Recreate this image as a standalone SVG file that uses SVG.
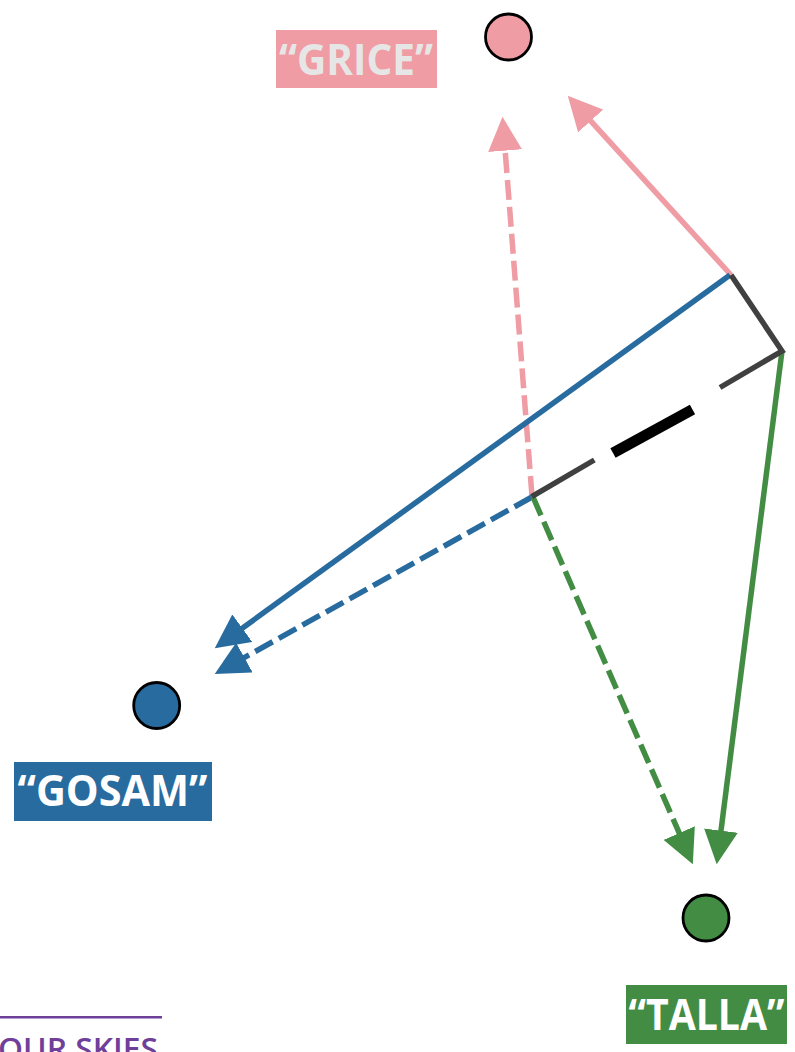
<svg xmlns="http://www.w3.org/2000/svg" width="795" height="1052" viewBox="0 0 795 1052">
  <defs>
    <style>
      .lbl { font-family: "Open Sans", "Liberation Sans", sans-serif; font-weight: 700; font-size: 43px; text-anchor: middle; }
      .node { stroke: #000; stroke-width: 2.8; }
      .ln { fill: none; stroke-width: 5.5; stroke-linecap: butt; }
      .thick { stroke-width: 11; }
      .dash { stroke-dasharray: 20 7; }
      .pink { stroke: #ef9ca4; }
      .blue { stroke: #286b9f; }
      .green { stroke: #428d43; }
      .grey { stroke: #404040; }
      .black { stroke: #000000; }
    </style>
    <marker id="ahPink" markerUnits="userSpaceOnUse" markerWidth="34" markerHeight="34" refX="23" refY="16.5" orient="auto" viewBox="0 0 33 33">
      <path d="M0,0 L33,16.5 L0,33 Z" fill="#ef9ca4"/>
    </marker>
    <marker id="ahBlue" markerUnits="userSpaceOnUse" markerWidth="34" markerHeight="34" refX="23" refY="16.5" orient="auto" viewBox="0 0 33 33">
      <path d="M0,0 L33,16.5 L0,33 Z" fill="#286b9f"/>
    </marker>
    <marker id="ahGreen" markerUnits="userSpaceOnUse" markerWidth="34" markerHeight="34" refX="23" refY="16.5" orient="auto" viewBox="0 0 33 33">
      <path d="M0,0 L33,16.5 L0,33 Z" fill="#428d43"/>
    </marker>
  </defs>
  <rect width="795" height="1052" fill="#ffffff"/>

  <g id="connectors">
    <line class="ln pink" x1="731" y1="275" x2="574.7" y2="103.4" marker-end="url(#ahPink)"/>
    <line class="ln pink dash" x1="532" y1="496" x2="503.3" y2="127" marker-end="url(#ahPink)"/>
    <line class="ln blue" x1="730" y1="275" x2="223.1" y2="642.1" marker-end="url(#ahBlue)"/>
    <line class="ln blue dash" x1="532" y1="497" x2="223.7" y2="669.1" marker-end="url(#ahBlue)"/>
    <line class="ln green" x1="782" y1="351" x2="718" y2="854.1" marker-end="url(#ahGreen)"/>
    <line class="ln green dash" x1="533" y1="497" x2="688.7" y2="854.8" marker-end="url(#ahGreen)"/>
    <polyline class="ln grey" stroke-linejoin="miter" points="731,275 782,351 720,387.5"/>
    <line class="ln black thick" x1="692.5" y1="409.5" x2="613" y2="453"/>
    <line class="ln grey" x1="594.3" y1="460" x2="531.7" y2="496.7"/>
  </g>

  <g id="grice">
    <circle class="node" cx="508.5" cy="37" r="23" fill="#ef9ca4"/>
    <rect x="276" y="30" width="161" height="58" fill="#ef9ca4"/>
    <text class="lbl" x="356" y="75" fill="#e7e6e6" textLength="154" lengthAdjust="spacingAndGlyphs">“GRICE”</text>
  </g>

  <g id="gosam">
    <circle class="node" cx="156.7" cy="705.5" r="23" fill="#286b9f"/>
    <rect x="14" y="762" width="198" height="59" fill="#286b9f"/>
    <text class="lbl" x="112.5" y="806" fill="#ffffff" textLength="190" lengthAdjust="spacingAndGlyphs">“GOSAM”</text>
  </g>

  <g id="talla">
    <circle class="node" cx="706" cy="918" r="23" fill="#428d43"/>
    <rect x="626" y="985" width="161" height="59" fill="#428d43"/>
    <text class="lbl" x="706.5" y="1030" fill="#ffffff" textLength="156" lengthAdjust="spacingAndGlyphs">“TALLA”</text>
  </g>

  <g id="logo">
    <line x1="0" y1="1017.3" x2="162" y2="1017.3" stroke="#6f3f9a" stroke-width="2.5"/>
    <text x="-2" y="1060" fill="#6f3f9a" font-family="'Open Sans', 'Liberation Sans', sans-serif" font-weight="600" font-size="31" textLength="160" lengthAdjust="spacingAndGlyphs">OUR SKIES</text>
  </g>
</svg>
